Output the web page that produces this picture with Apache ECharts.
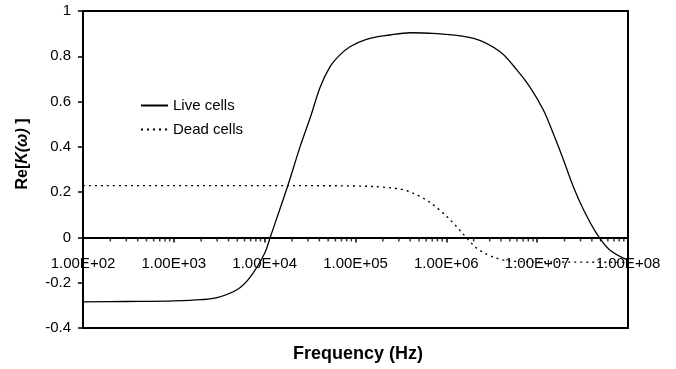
<!DOCTYPE html>
<html>
<head>
<meta charset="utf-8">
<script src="https://cdn.jsdelivr.net/npm/echarts@6/dist/echarts.min.js"></script>
<style>
  html, body { margin: 0; padding: 0; background: #fff; }
  #chart { width: 676px; height: 369px; }
</style>
</head>
<body>
<div id="chart"></div>
<script>
// frequency (Hz) / Re[K(w)] pairs
var liveCells = [
  [100, -0.285], [300, -0.283], [1000, -0.28], [2000, -0.275], [3000, -0.266],
  [5000, -0.23], [7000, -0.173], [10000, -0.07], [11500, 0], [18000, 0.229],
  [24500, 0.40], [32000, 0.533], [41000, 0.665], [52500, 0.754], [67000, 0.805],
  [87000, 0.842], [132000, 0.875], [240000, 0.894], [400000, 0.904], [710000, 0.901],
  [2000000, 0.879], [3900000, 0.82], [6000000, 0.739], [8300000, 0.665],
  [11700000, 0.563], [15000000, 0.46], [19500000, 0.342], [25000000, 0.224],
  [32500000, 0.121], [45000000, 0.018], [63000000, -0.055], [100000000, -0.1]
];
var deadCells = [
  [100, 0.229], [1000, 0.229], [10000, 0.229], [100000, 0.227], [200000, 0.222],
  [340000, 0.21], [560000, 0.173], [850000, 0.12], [1200000, 0.062],
  [1700000, -0.005], [2200000, -0.05], [3000000, -0.08], [4200000, -0.099],
  [6000000, -0.106], [10000000, -0.108], [100000000, -0.11]
];
var seriesNames = ['Live cells', 'Dead cells'];
var xTickLabels = ['1.00E+02', '1.00E+03', '1.00E+04', '1.00E+05', '1.00E+06', '1.00E+07', '1.00E+08'];
var yMin = -0.4, yMax = 1, yStep = 0.2;

// minor log ticks (2..9 x each decade)
var minorTicks = [];
for (var d = 100; d < 100000000; d *= 10) {
  for (var k = 2; k <= 9; k++) minorTicks.push([d * k, 0]);
}

var font = "'Liberation Sans', Arial, sans-serif";
var gridTop = 11, gridBottom = 41;
var myChart = echarts.init(document.getElementById('chart'));

// x axis sits on y = 0: shift it up from the grid bottom
var plotH = 369 - gridTop - gridBottom;
var zeroOffset = -plotH * (0 - yMin) / (yMax - yMin);

var option = {
  animation: false,
  grid: {
    left: 83, right: 48, top: gridTop, bottom: gridBottom,
    show: true, borderColor: '#000', borderWidth: 2, backgroundColor: 'transparent'
  },
  legend: {
    orient: 'vertical',
    left: 135, top: 93,
    itemWidth: 27, itemHeight: 14, itemGap: 9,
    data: seriesNames,
    itemStyle: { opacity: 0 },
    textStyle: { fontFamily: font, fontSize: 15, color: '#000' }
  },
  xAxis: {
    type: 'log',
    logBase: 10,
    min: 100,
    max: 100000000,
    offset: zeroOffset,
    axisLine: { onZero: false, lineStyle: { color: '#000', width: 2 } },
    axisTick: { show: true, length: 5, lineStyle: { color: '#000', width: 1.5 } },
    axisLabel: {
      margin: 19,
      color: '#000',
      fontFamily: font,
      fontSize: 15,
      formatter: function (v, i) { return xTickLabels[i]; }
    },
    splitLine: { show: false }
  },
  yAxis: {
    type: 'value',
    min: yMin,
    max: yMax,
    interval: yStep,
    axisLine: { show: true, lineStyle: { color: '#000', width: 2 } },
    axisTick: { show: true, length: 5, lineStyle: { color: '#000', width: 1.5 } },
    axisLabel: { margin: 12, color: '#000', fontFamily: font, fontSize: 15 },
    splitLine: { show: false }
  },
  graphic: [
    {
      type: 'text',
      x: 23, y: 154,
      rotation: Math.PI / 2,
      style: {
        text: '{b|Re[}{i|K(ω)}{b| ]}',
        align: 'center',
        verticalAlign: 'middle',
        rich: {
          b: { fontFamily: font, fontSize: 16, fontWeight: 'bold', fill: '#000' },
          i: { fontFamily: font, fontSize: 16, fontWeight: 'bold', fontStyle: 'italic', fill: '#000' }
        }
      }
    },
    {
      type: 'text',
      x: 358, y: 354,
      style: {
        text: 'Frequency (Hz)',
        align: 'center',
        verticalAlign: 'middle',
        fontFamily: font, fontSize: 18, fontWeight: 'bold', fill: '#000'
      }
    }
  ],
  series: [
    {
      name: seriesNames[0],
      type: 'line',
      data: liveCells,
      smooth: 0.35,
      symbol: 'none',
      lineStyle: { color: '#000', width: 1.3 },
      itemStyle: { color: '#000' }
    },
    {
      name: seriesNames[1],
      type: 'line',
      data: deadCells,
      smooth: 0.35,
      symbol: 'none',
      lineStyle: { color: '#000', width: 1.4, type: [2, 4] },
      itemStyle: { color: '#000' }
    },
    {
      name: 'minor',
      type: 'scatter',
      data: minorTicks,
      symbol: 'rect',
      symbolSize: [1.5, 4],
      symbolOffset: [0, 2],
      silent: true,
      itemStyle: { color: '#000' },
      z: 1
    }
  ]
};

myChart.setOption(option);
</script>
</body>
</html>
